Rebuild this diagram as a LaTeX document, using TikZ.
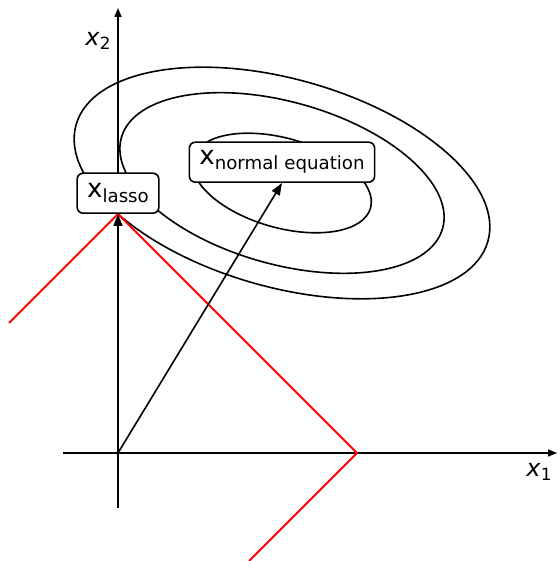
\documentclass[tikz,border=0pt]{standalone}
\usepackage{fontspec}
\setmainfont{DejaVu Sans}
\usetikzlibrary{positioning,arrows.meta,calc}
\definecolor{lsred}{HTML}{FF0000}
\definecolor{lsink}{HTML}{000000}
\tikzset{
  axis/.style  ={-{Triangle[length=4.5pt,width=3.5pt]}, line width=0.8pt, draw=lsink},
  level/.style ={line width=0.8pt, draw=lsink},
  ball/.style  ={line width=1pt, draw=lsred},
  sol/.style   ={draw=lsink, fill=white, rounded corners=3pt, line width=0.8pt,
                 inner xsep=5pt, inner ysep=0pt, minimum height=20pt,
                 font=\fontsize{13}{13}\selectfont},
  arw/.style   ={-{Triangle[length=6pt,width=4.5pt]}, line width=0.8pt, draw=lsink},
  axlab/.style ={inner sep=0pt, font=\fontsize{12}{12}\selectfont},
}
\newcommand{\xsub}[3][2.5pt]{#2\lower#1\hbox{\fontsize{9.1}{10}\selectfont #3}}

\begin{document}
\begin{tikzpicture}[x=0.5pt,y=0.5pt]
  \useasboundingbox (-118,-108) rectangle (439,453);
  % points
  \coordinate (O) at (0,0);
  \coordinate (T) at (0,239);
  \coordinate (R) at (239,0);
  \coordinate (C) at (164,270);
  \coordinate (xl) at (-55,0);
  \coordinate (xr) at (439,0);
  \coordinate (yb) at (0,-55);
  \coordinate (yt) at (0,445);
  \coordinate (bl) at (-109,130);
  \coordinate (bb) at (131,-108);
  % axes
  \draw[axis] (xl) -- (xr);
  \draw[axis] (yb) -- (yt);
  \node[axlab] (xone) at (421,-19) {\xsub[2pt]{\textit{x}}{\fontsize{8.4}{9}\selectfont 1}};
  \node[axlab] (xtwo) at (-20,412) {\xsub[2pt]{\textit{x}}{\fontsize{8.4}{9}\selectfont 2}};
  % level sets
  \foreach \s in {1,0.78,0.43}
    \draw[level, rotate around={-15.8:(C)}] (C) ellipse [x radius=214*\s, y radius=104*\s];
  % l1 ball
  \draw[ball] (bl) -- (T) -- (R) -- (bb);
  % solutions
  \node[sol, anchor=south] (lasso) at (T) {\xsub{x}{lasso}};
  \node[sol, anchor=south] (normal) at (C) {\xsub{x}{normal equation}};
  \draw[arw] (O) -- (lasso.south);
  \draw[arw] (O) -- (normal.south);
\end{tikzpicture}
\end{document}
